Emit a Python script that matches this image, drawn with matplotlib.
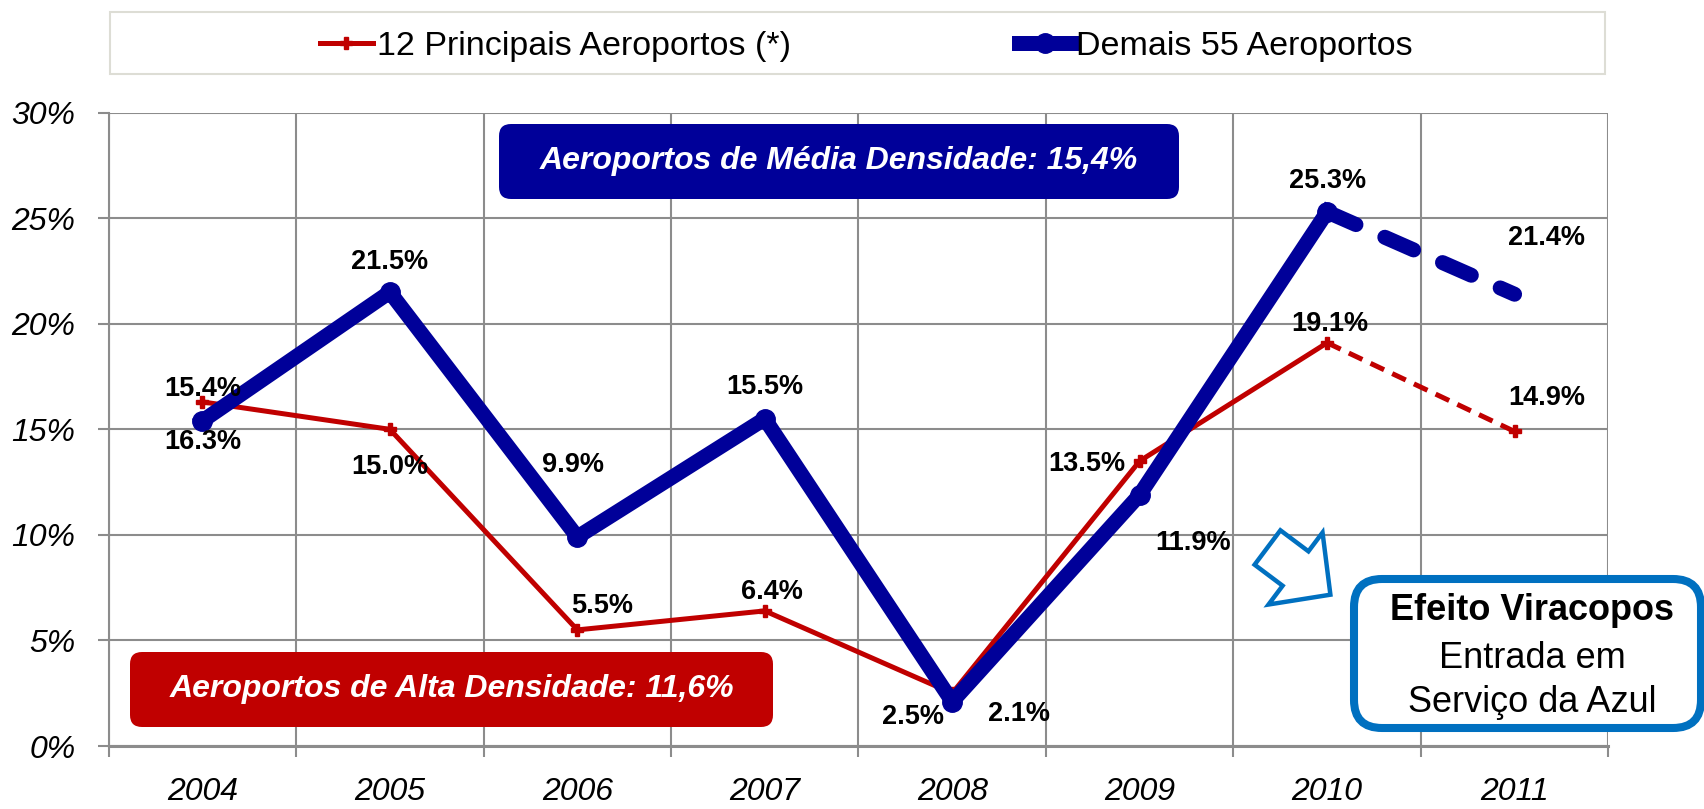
"""Crescimento de passageiros: 12 principais aeroportos x demais 55 aeroportos."""
import matplotlib
matplotlib.use("Agg")
import matplotlib.pyplot as plt
import numpy as np
from matplotlib.patches import FancyArrow, FancyBboxPatch, Rectangle
from matplotlib.ticker import PercentFormatter

plt.rcParams["font.family"] = ["Liberation Sans", "DejaVu Sans"]

years = ["2004", "2005", "2006", "2007", "2008", "2009", "2010", "2011"]
principais = [0.163, 0.150, 0.055, 0.064, 0.025, 0.135, 0.191, 0.149]
demais = [0.154, 0.215, 0.099, 0.155, 0.021, 0.119, 0.253, 0.214]
label_principais = "12 Principais Aeroportos (*)"
label_demais = "Demais 55 Aeroportos"

# label offsets from each point, in pixels (dx, dy up)
off_principais = [(0, -40), (0, -38), (25, 24), (7, 19), (-39, -24), (-53, -3), (3, 19), (32, 33)]
off_demais = [(0, 32), (0, 30), (-4, 72), (0, 32), (67, -12), (53, -48), (0, 31), (32, 56)]

RED = "#C00000"
NAVY = "#000099"
LBLUE = "#0070C0"
GRID = "#8C8C8C"
W, H = 1704, 809

fig = plt.figure(figsize=(W / 100, H / 100), dpi=100)
ax = fig.add_axes([108.7 / W, 63 / H, 1499.6 / W, 633.3 / H])

x = np.arange(len(years))
n = len(years) - 1  # last year is a projection -> dashed

red_line, = ax.plot(x[:n], principais[:n], color=RED, lw=3.6, marker="P", ms=8,
                    solid_joinstyle="round", zorder=3)
ax.plot(x[n - 1:], principais[n - 1:], color=RED, lw=3.6, ls=(0, (3, 1.8)),
        marker="P", ms=8, markevery=[1], zorder=3)
blue_line, = ax.plot(x[:n], demais[:n], color=NAVY, lw=10.8, marker="o", ms=14,
                     solid_joinstyle="round", zorder=4)
ax.plot(x[n - 1:], demais[n - 1:], color=NAVY, lw=10.8, ls=(0, (2.1, 2.1)),
        dash_capstyle="round", zorder=4)

for xi, v, (dx, dy) in zip(x, principais, off_principais):
    ax.annotate(f"{v * 100:.1f}%", (xi, v), xytext=(dx * 0.72, dy * 0.72),
                textcoords="offset points", ha="center", va="center",
                fontsize=19.5, fontweight="bold", zorder=6)
for xi, v, (dx, dy) in zip(x, demais, off_demais):
    ax.annotate(f"{v * 100:.1f}%", (xi, v), xytext=(dx * 0.72, dy * 0.72),
                textcoords="offset points", ha="center", va="center",
                fontsize=19.5, fontweight="bold", zorder=6)

ax.set_xlim(-0.5, len(years) - 0.5)
ax.set_ylim(0, 0.30)
ax.set_yticks(np.arange(0, 0.301, 0.05))
ax.yaxis.set_major_formatter(PercentFormatter(1.0, decimals=0))
ax.set_xticks(x)
ax.set_xticklabels(years)
ax.set_xticks(np.arange(-0.5, len(years), 1), minor=True)
ax.tick_params(axis="y", length=8, width=1.5, color=GRID, pad=16, labelsize=23)
ax.tick_params(axis="x", which="major", length=0, pad=22, labelsize=23)
ax.tick_params(axis="x", which="minor", length=8, width=1.5, color=GRID)
for lab in ax.get_xticklabels() + ax.get_yticklabels():
    lab.set_fontstyle("italic")
ax.grid(True, axis="y", color=GRID, lw=1.5)
ax.grid(True, axis="x", which="minor", color=GRID, lw=1.5)
ax.set_axisbelow(True)
for side in ["top", "right"]:
    ax.spines[side].set_visible(False)
ax.spines["left"].set_color(GRID)
ax.spines["left"].set_linewidth(1.5)
ax.spines["bottom"].set_color(GRID)
ax.spines["bottom"].set_linewidth(2.2)

# legend with its own wide frame
px = fig.dpi_scale_trans
fig.patches.append(Rectangle((110 / 100, (H - 74) / 100), 1495 / 100, 62 / 100,
                             transform=px, facecolor="white", edgecolor="#DDDDD5", lw=1.5))
fig.legend([red_line, blue_line], [label_principais, label_demais], loc="center",
           bbox_to_anchor=(866 / W, 1 - 46 / H), ncol=2, frameon=False, fontsize=24.5,
           columnspacing=6.7, handlelength=1.55, handletextpad=0.12)


def rounded_box(x0, y0, x1, y1, face, edge, lw, r):
    box = FancyBboxPatch((x0 / 100, (H - y1) / 100), (x1 - x0) / 100, (y1 - y0) / 100,
                         boxstyle=f"round,pad=0,rounding_size={r / 100}", transform=px,
                         facecolor=face, edgecolor=edge, lw=lw, zorder=5)
    fig.patches.append(box)


def box_text(xc, yc, s, **kw):
    fig.text(xc / W, 1 - yc / H, s, ha="center", va="center", zorder=7, **kw)


rounded_box(499, 124, 1179, 199, NAVY, NAVY, 0, 12)
box_text((499 + 1179) / 2, 161, "Aeroportos de Média Densidade: 15,4%",
         color="white", fontsize=23, fontweight="bold", fontstyle="italic")
rounded_box(130, 652, 773, 727, RED, RED, 0, 12)
box_text((130 + 773) / 2, 689, "Aeroportos de Alta Densidade: 11,6%",
         color="white", fontsize=23, fontweight="bold", fontstyle="italic")

rounded_box(1354, 579, 1701, 728, "white", LBLUE, 5.8, 28)
box_text(1532, 610, "Efeito Viracopos", fontsize=26, fontweight="bold")
box_text(1532, 658, "Entrada em", fontsize=26)
box_text(1532, 703, "Serviço da Azul", fontsize=26)

fig.patches.append(FancyArrow(1267.5 / 100, (H - 547.5) / 100, 0.629, -0.472,
                              width=0.43, head_width=0.90, head_length=0.436,
                              length_includes_head=True, transform=px,
                              facecolor="white", edgecolor=LBLUE, lw=3.2, zorder=5))

fig.savefig("out.png", dpi=100, facecolor="white")
